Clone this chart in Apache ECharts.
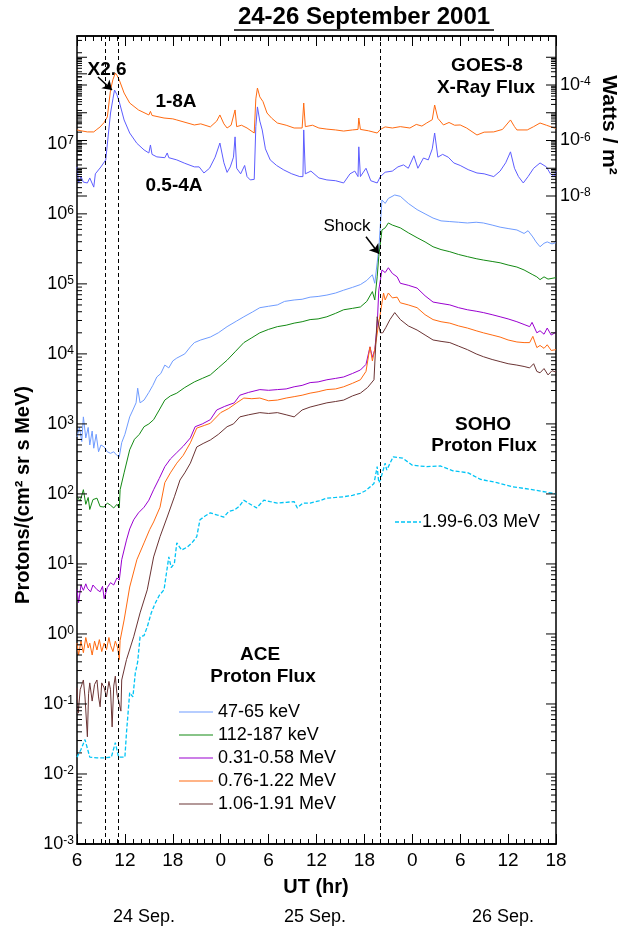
<!DOCTYPE html>
<html><head><meta charset="utf-8">
<script src="https://cdn.jsdelivr.net/npm/echarts@6/dist/echarts.min.js"></script>
<style>html,body{margin:0;padding:0;background:#fff}#c{width:622px;height:926px}</style>
</head><body><div id="c"></div><script>
// time in hours since 24 Sep 2001 00:00 UT
const xMin = 6, xMax = 66;
const protonLabelVals = [1e-3,1e-2,1e-1,1,10,100,1e3,1e4,1e5,1e6,1e7];
const wattsLabelVals = [1e-4,1e-6,1e-8];
const eventTimes = [9.5, 11.2, 44.0]; // flare start, flare end, shock
const dayLabels = ['24 Sep.', '25 Sep.', '26 Sep.'];
const aceNames = ['47-65 keV', '112-187 keV', '0.31-0.58 MeV', '0.76-1.22 MeV', '1.06-1.91 MeV'];
const sohoName = '1.99-6.03 MeV';

const ace47_65 = [[6.0,650],[6.3,890],[6.6,560],[6.8,1260],[7.1,630],[7.4,890],[7.6,500],[7.9,790],[8.1,450],[8.4,710],[8.7,400],[9.0,500],[9.4,470],[9.8,400],[10.2,380],[10.6,400],[11.0,355],[11.3,340],[11.6,540],[12.0,710],[12.6,1260],[13.0,1580],[13.4,2000],[13.6,3240],[13.9,2000],[14.4,2190],[15.0,2820],[15.5,3550],[16.0,4680],[16.5,5250],[17.0,6920],[17.5,6310],[18.0,7940],[18.5,8710],[19.5,1.0e4],[20.2,1.26e4],[20.7,1.45e4],[21.5,1.58e4],[22.7,1.74e4],[23.7,2.0e4],[24.8,2.45e4],[26.0,2.95e4],[26.9,3.39e4],[28.0,3.98e4],[28.9,4.57e4],[30.0,4.79e4],[31.1,5.01e4],[32.0,5.62e4],[33.2,5.89e4],[34.2,6.03e4],[35.2,6.46e4],[36.2,6.61e4],[37.3,6.92e4],[38.4,7.41e4],[39.4,8.13e4],[40.5,8.91e4],[41.5,9.77e4],[42.3,1.12e5],[43.0,1.35e5],[43.3,1.02e5],[43.6,2.0e5],[43.8,3.09e5],[44.2,1.58e6],[44.6,1.41e6],[45.0,1.66e6],[45.8,1.86e6],[46.5,1.78e6],[47.5,1.41e6],[48.6,1.15e6],[49.6,1.0e6],[50.6,8.71e5],[51.6,7.94e5],[52.7,7.76e5],[53.8,7.59e5],[54.9,7.41e5],[56.0,7.59e5],[56.9,7.41e5],[58.0,6.92e5],[59.0,6.46e5],[60.0,6.17e5],[61.1,5.89e5],[62.0,5.25e5],[62.5,5.75e5],[63.1,4.68e5],[63.5,3.98e5],[64.0,3.39e5],[64.5,3.8e5],[64.9,3.98e5],[65.5,3.72e5],[66.0,3.89e5]];

const ace112_187 = [[6.0,91],[6.4,79],[6.8,115],[7.1,71],[7.4,89],[7.6,60],[8.0,83],[8.5,87],[8.9,66],[9.4,65],[9.8,74],[10.2,69],[10.6,63],[11.0,71],[11.3,63],[11.4,115],[11.9,200],[12.6,427],[13.2,603],[13.8,708],[14.4,912],[15.0,1000],[15.6,1150],[16.3,1580],[17.0,2190],[17.7,2510],[18.5,2750],[19.5,3310],[20.7,3980],[21.7,4470],[22.7,5010],[23.7,6310],[24.8,8130],[25.8,1.07e4],[26.9,1.45e4],[27.9,1.7e4],[28.9,2.0e4],[30.0,2.24e4],[31.1,2.45e4],[32.2,2.57e4],[33.2,2.75e4],[34.2,2.88e4],[35.2,3.09e4],[36.2,3.16e4],[37.3,3.39e4],[38.4,3.8e4],[39.4,4.27e4],[40.5,4.47e4],[41.5,4.68e4],[42.3,5.62e4],[43.0,7.76e4],[43.3,5.89e4],[43.6,1.26e5],[43.8,2.45e5],[44.2,5.89e5],[44.6,6.31e5],[45.0,7.41e5],[45.5,6.92e5],[46.5,6.31e5],[47.5,5.37e5],[48.6,4.57e5],[49.6,3.98e5],[50.6,3.39e5],[51.6,3.09e5],[52.7,2.88e5],[53.8,2.63e5],[54.9,2.45e5],[56.0,2.29e5],[56.9,2.19e5],[58.0,2.09e5],[59.0,2.0e5],[60.0,1.86e5],[61.1,1.74e5],[62.0,1.58e5],[63.1,1.35e5],[63.6,1.26e5],[64.0,1.15e5],[64.5,1.26e5],[65.0,1.17e5],[66.0,1.23e5]];

const ace031_058 = [[6.0,4.3],[6.2,2.8],[6.5,5.0],[6.8,4.2],[7.1,5.2],[7.3,4.5],[7.7,4.0],[8.0,5.0],[8.5,4.3],[8.9,4.0],[9.2,4.8],[9.4,3.2],[9.8,4.6],[10.2,5.4],[10.6,5.0],[11.0,6.3],[11.3,5.9],[11.6,11.5],[12.2,21.9],[12.6,31.6],[13.1,42.7],[13.7,53.7],[14.4,64.6],[15.0,81.3],[15.6,115],[16.3,166],[17.0,245],[17.7,316],[18.5,389],[19.3,479],[20.2,631],[20.8,912],[21.7,1000],[22.7,1150],[23.5,1580],[24.5,1780],[25.7,2000],[26.4,2570],[27.5,2820],[28.9,3090],[30.0,3020],[31.1,3090],[32.2,3160],[33.2,3390],[34.2,3550],[35.2,3890],[36.2,3980],[37.3,4270],[38.4,4470],[39.4,4680],[40.5,5250],[41.5,5890],[42.2,7080],[42.7,1.26e4],[43.0,8910],[43.3,1.15e4],[43.6,2.51e4],[43.8,8.13e4],[44.2,1.58e5],[44.6,1.45e5],[45.0,1.7e5],[45.5,1.41e5],[46.1,1.26e5],[46.5,1.02e5],[47.5,9.55e4],[48.6,8.71e4],[49.6,6.76e4],[50.6,5.5e4],[51.6,5.25e4],[52.7,5.01e4],[53.8,4.57e4],[54.9,4.27e4],[56.0,4.07e4],[56.9,3.89e4],[58.0,3.63e4],[59.0,3.39e4],[60.0,3.16e4],[61.1,2.88e4],[62.0,2.63e4],[62.7,2.45e4],[63.0,2.82e4],[63.6,2.0e4],[64.0,2.14e4],[64.5,1.91e4],[64.9,2.34e4],[65.4,1.86e4],[66.0,2.04e4]];

const ace076_122 = [[6.0,0.74],[6.2,0.5],[6.5,0.79],[6.8,0.54],[7.1,0.89],[7.4,0.63],[7.6,0.74],[7.9,0.5],[8.2,0.79],[8.5,0.59],[8.8,0.83],[9.1,0.56],[9.4,0.74],[9.7,0.6],[10.0,0.89],[10.2,0.69],[10.5,0.56],[10.8,0.79],[11.1,0.63],[11.3,0.43],[11.4,0.81],[11.9,1.58],[12.6,4.68],[13.5,11.5],[14.4,20],[15.1,30.9],[15.6,39.8],[16.4,64.6],[17.0,145],[17.7,200],[18.5,275],[19.3,355],[20.2,537],[21.0,871],[22.0,955],[22.7,1020],[24.0,1450],[25.0,1660],[26.0,2000],[26.9,2340],[27.9,2290],[28.9,2340],[30.0,2140],[31.1,2190],[32.2,2340],[33.2,2450],[34.2,2570],[35.2,2750],[36.2,2880],[37.3,3090],[38.4,3160],[39.4,3390],[40.5,3800],[41.5,4270],[42.2,5620],[42.7,1.26e4],[43.0,7940],[43.3,1.15e4],[43.8,2.75e4],[44.4,7.41e4],[44.6,5.89e4],[45.0,7.41e4],[45.5,6.31e4],[46.1,6.46e4],[46.5,5.37e4],[47.5,5.01e4],[48.6,4.57e4],[49.6,3.63e4],[50.6,3.09e4],[51.6,2.88e4],[52.7,2.75e4],[53.8,2.51e4],[54.9,2.34e4],[56.0,2.14e4],[56.9,2.0e4],[58.0,1.86e4],[59.0,1.74e4],[60.0,1.58e4],[61.1,1.48e4],[62.0,1.45e4],[62.7,1.45e4],[63.1,1.78e4],[63.6,1.23e4],[64.0,1.32e4],[64.5,1.2e4],[64.9,1.35e4],[65.4,1.12e4],[66.0,1.15e4]];

const ace106_191 = [[6.0,0.17],[6.15,0.074],[6.4,0.16],[6.8,0.22],[7.0,0.126],[7.3,0.034],[7.45,0.14],[7.6,0.2],[7.9,0.11],[8.2,0.19],[8.5,0.22],[8.7,0.126],[8.9,0.091],[9.1,0.2],[9.4,0.17],[9.7,0.126],[10.0,0.21],[10.2,0.16],[10.4,0.047],[10.6,0.18],[10.8,0.25],[11.0,0.14],[11.3,0.1],[11.5,0.079],[11.6,0.22],[12.2,0.43],[13.1,0.91],[13.9,2.0],[14.8,4.27],[15.6,12.6],[16.4,24.5],[17.3,46.8],[18.2,91],[18.9,158],[19.5,200],[20.2,275],[21.0,468],[21.8,525],[22.7,589],[23.7,708],[24.8,912],[25.6,1000],[26.4,1260],[27.5,1350],[28.9,1450],[30.0,1410],[31.1,1450],[32.2,1350],[33.2,1260],[34.2,1580],[35.2,1740],[36.2,1860],[37.3,2000],[38.4,2090],[39.4,2190],[40.5,2510],[41.5,2750],[42.4,3310],[43.2,4270],[43.6,3.39e4],[44.0,2.0e4],[44.3,2.0e4],[44.7,2.4e4],[45.2,3.09e4],[45.8,3.89e4],[46.5,3.09e4],[47.5,2.51e4],[48.6,2.19e4],[49.6,1.86e4],[50.6,1.58e4],[51.6,1.51e4],[52.7,1.45e4],[53.8,1.29e4],[54.9,1.15e4],[56.0,1.0e4],[56.9,9120],[58.0,8320],[59.0,7760],[60.0,7240],[61.1,6920],[62.0,6610],[62.7,6310],[63.2,7240],[63.6,5620],[64.0,5370],[64.5,6170],[65.0,5010],[65.5,5750],[66.0,5500]];

const soho199_603 = [[6.0,0.0174],[6.5,0.0224],[7.0,0.031],[7.6,0.0174],[8.5,0.017],[9.5,0.017],[10.3,0.0174],[10.8,0.028],[11.2,0.0174],[12.0,0.0174],[12.2,0.039],[12.6,0.145],[13.0,0.126],[13.3,0.275],[13.6,0.4],[13.9,0.91],[14.4,0.95],[14.8,1.26],[15.3,2.0],[15.8,2.75],[16.3,3.55],[16.9,4.27],[17.5,12.6],[17.8,8.9],[18.2,10.2],[18.5,20],[19.1,15.8],[19.8,17.4],[20.4,20],[21.0,24.5],[21.4,42.7],[22.0,47.9],[22.7,53.7],[23.5,50.1],[24.4,46.8],[25.0,56.2],[25.7,58.9],[26.3,66.1],[26.9,81.3],[27.6,72.4],[28.5,63.1],[29.4,81.3],[30.2,77.6],[31.1,74.1],[32.2,75.9],[33.2,77.6],[33.6,63.1],[34.3,74.1],[35.2,74.1],[36.3,79.4],[37.3,87.1],[38.4,89.1],[39.4,91.2],[40.5,95.5],[41.5,102],[42.2,112],[42.7,126],[43.2,141],[43.6,245],[43.8,145],[44.0,158],[44.6,275],[44.8,219],[45.6,339],[46.8,324],[48.0,257],[49.8,245],[51.5,251],[53.1,214],[55.0,200],[56.5,162],[58.6,145],[60.6,126],[62.7,117],[65.6,102],[66.0,100]];

const goes1_8A = [[6.0,2.4e-6],[6.5,2.24e-6],[7.3,2.04e-6],[8.1,2.04e-6],[8.4,2.4e-6],[8.9,3.09e-6],[9.4,4.47e-6],[9.8,7.08e-6],[10.2,6.61e-5],[10.5,1.58e-4],[10.8,2.69e-4],[11.0,2.24e-4],[11.3,1.51e-4],[11.9,5.13e-5],[12.6,2.24e-5],[13.7,1.26e-5],[15.0,8.32e-6],[15.2,1.12e-5],[15.4,8.0e-6],[16.9,6.46e-6],[18.0,6.03e-6],[18.5,5.5e-6],[20.7,3.63e-6],[21.5,3.98e-6],[22.7,3.09e-6],[23.5,5.01e-6],[23.9,8.32e-6],[24.4,3.98e-6],[24.8,2.82e-6],[25.3,3.55e-6],[25.8,1.26e-5],[26.0,3.16e-6],[26.6,3.55e-6],[27.3,2.82e-6],[28.2,1.86e-6],[28.4,3.16e-5],[28.6,7.76e-5],[28.9,3.72e-5],[29.3,2.51e-5],[29.8,9.77e-6],[30.4,6.31e-6],[31.1,4.27e-6],[32.2,3.55e-6],[33.2,2.82e-6],[34.2,2.82e-6],[34.4,2.24e-5],[34.6,3.16e-6],[35.5,3.55e-6],[36.3,2.82e-6],[37.3,2.57e-6],[38.4,2.4e-6],[39.4,2.19e-6],[40.5,2.4e-6],[41.2,2.51e-6],[41.3,6.46e-6],[41.5,2.51e-6],[42.5,2.24e-6],[43.6,1.86e-6],[44.0,2.51e-6],[44.6,3.09e-6],[45.5,2.82e-6],[46.5,3.16e-6],[47.7,2.82e-6],[48.5,3.8e-6],[49.2,3.31e-6],[49.8,4.27e-6],[50.5,5.62e-6],[50.8,1.9e-5],[51.2,6.31e-6],[51.9,3.63e-6],[52.6,4.47e-6],[53.3,3.55e-6],[54.0,3.63e-6],[54.8,2.82e-6],[56.1,1.58e-6],[57.0,2.0e-6],[58.2,2.04e-6],[59.3,2.51e-6],[60.3,5.5e-6],[60.8,3.16e-6],[61.1,2.4e-6],[62.4,2.4e-6],[63.2,3.16e-6],[64.0,4.27e-6],[64.8,3.55e-6],[65.8,2.82e-6],[66.0,2.82e-6]];

const goes05_4A = [[6.0,1.12e-7],[6.2,2.95e-8],[6.5,5.0e-8],[6.8,3.16e-8],[7.3,2.95e-8],[7.6,4.47e-8],[8.1,2.09e-8],[8.3,6.3e-8],[8.5,6.76e-8],[9.0,1.12e-7],[9.6,2.0e-7],[10.2,9.77e-6],[10.5,3.16e-5],[10.7,6.6e-5],[11.0,4.47e-5],[11.3,2.45e-5],[11.9,5.5e-6],[12.6,1.86e-6],[13.5,7.9e-7],[14.4,4.57e-7],[15.0,3.55e-7],[15.2,6.9e-7],[15.4,3.16e-7],[16.0,2.57e-7],[17.0,2.4e-7],[17.3,3.55e-7],[17.5,2.4e-7],[18.5,2.0e-7],[19.5,1.51e-7],[20.7,1.12e-7],[21.3,1.12e-7],[21.9,6.76e-8],[22.6,1.0e-7],[23.3,2.51e-7],[23.9,8.1e-7],[24.4,1.58e-7],[24.8,7.1e-8],[25.2,1.12e-7],[25.6,2.51e-7],[25.8,1.35e-6],[26.0,1.0e-7],[26.5,6.3e-8],[27.0,1.26e-7],[27.3,5.0e-8],[27.7,3.8e-8],[28.2,3.98e-8],[28.4,3.16e-6],[28.6,1.62e-5],[28.9,5.0e-6],[29.2,2.4e-6],[29.6,5.0e-7],[30.2,2.0e-7],[31.0,1.26e-7],[31.9,8.7e-8],[32.9,6.3e-8],[33.9,5.0e-8],[34.3,5.0e-8],[34.4,2.4e-6],[34.6,6.3e-8],[35.3,7.9e-8],[36.3,4.47e-8],[37.3,3.8e-8],[38.4,3.55e-8],[39.4,2.95e-8],[40.2,6.3e-8],[40.8,7.9e-8],[41.2,5.0e-8],[41.3,5.9e-7],[41.5,5.0e-8],[42.2,1.0e-7],[42.8,3.55e-8],[43.6,2.95e-8],[44.0,5.0e-8],[44.6,7.2e-8],[45.5,7.9e-8],[46.2,1.12e-7],[46.9,1.32e-7],[47.5,1.0e-7],[48.2,2.82e-7],[48.7,1.0e-7],[49.4,2.34e-7],[50.0,2.0e-7],[50.5,5.0e-7],[50.8,1.86e-6],[51.2,2.51e-7],[51.8,3.16e-7],[52.5,2.51e-7],[53.2,1.55e-7],[54.0,1.26e-7],[55.0,8.9e-8],[56.1,6.76e-8],[57.0,6.3e-8],[58.2,5.0e-8],[59.0,7.9e-8],[59.7,1.58e-7],[60.3,3.9e-7],[60.8,1.0e-7],[61.3,5.0e-8],[61.9,2.95e-8],[62.5,5.0e-8],[63.2,1.0e-7],[64.0,1.55e-7],[64.8,1.12e-7],[65.3,6.3e-8],[65.8,5.0e-8],[66.0,7.9e-8]];

const FF = '"Liberation Sans", Arial, Helvetica, sans-serif';
const aceColors = ['#6f9cff', '#138a13', '#9a00d0', '#ff6a10', '#6b3434'];
const sohoColor = '#00c4f5';
const chart = echarts.init(document.getElementById('c'), null, {renderer: 'canvas'});

// tick positions on the log axes (1..9 x 10^n)
const protonTicks = [];
for (let n = -3; n <= 8; n++) for (let m = 1; m <= 9; m++) {
  const v = m * Math.pow(10, n);
  if (v > 3.4e8) continue;
  const len = m === 1 ? 10 : 5;
  protonTicks.push([xMin, v, len, 0]);
  if (v <= 1.05e6) protonTicks.push([xMax, v, len, 1]);
}
const wattsTicks = [];
for (let n = -8; n <= -3; n++) for (let m = 1; m <= 9; m++) {
  const v = m * Math.pow(10, n);
  if (v > 1.01e-3) continue;
  const len = m === 1 ? 10 : 5;
  wattsTicks.push([xMin, v, len, 0]);
  wattsTicks.push([xMax, v, len, 1]);
}
function tickRender(params, api) {
  const p = api.coord([api.value(0), api.value(1)]);
  const len = api.value(2), side = api.value(3);
  const dx = side === 0 ? len : -len;
  return {type: 'line', shape: {x1: p[0], y1: p[1], x2: p[0] + dx, y2: p[1]}, style: {stroke: '#000', lineWidth: 1}};
}
const richLbl = {
  b: {fontSize: 18, fontFamily: FF, fill: '#000', color: '#000'},
  e: {fontSize: 12, fontFamily: FF, fill: '#000', color: '#000', verticalAlign: 'top'}
};
function labelRender(side) {
  return function (params, api) {
    const v = api.value(1);
    const p = api.coord([api.value(0), v]);
    const e = Math.round(Math.log10(v));
    const al = side === 0 ? 'right' : 'left';
    return {type: 'text', x: side === 0 ? p[0] - 3 : p[0] + 4, y: p[1],
      style: {text: '{b|10}{e|' + e + '}', rich: richLbl, fill: '#000',
        align: al, textAlign: al, verticalAlign: 'middle', textVerticalAlign: 'middle'}};
  };
}

const lineS = (name, data, color, extra) => Object.assign({
  name, type: 'line', data, showSymbol: false, symbol: 'none', animation: false,
  xAxisIndex: 0, yAxisIndex: 0,
  lineStyle: {color, width: 1}, itemStyle: {color}, z: 3
}, extra || {});

const dashStyle = {type: [4, 3], color: '#000', width: 1};
const txt = (x, y, text, font, extra) => Object.assign({type: 'text', x, y,
  style: {text, font: font + ' ' + FF, fill: '#000', align: 'center', textAlign: 'center', verticalAlign: 'middle', textVerticalAlign: 'middle'}}, extra || {});
const ltxt = (x, y, text) => ({type: 'text', x, y,
  style: {text, font: '18px ' + FF, fill: '#000', align: 'left', textAlign: 'left', verticalAlign: 'middle', textVerticalAlign: 'middle'}});

const legendGraphics = [];
aceNames.forEach((nm, i) => {
  const y = 712 + i * 23;
  legendGraphics.push({type: 'line', shape: {x1: 179, y1: y, x2: 213, y2: y}, style: {stroke: aceColors[i], lineWidth: 1.2}});
  legendGraphics.push(ltxt(218, y, nm));
});
legendGraphics.push({type: 'line', shape: {x1: 395, y1: 522, x2: 421, y2: 522}, style: {stroke: sohoColor, lineWidth: 1.3, lineDash: [4, 2]}});
legendGraphics.push(ltxt(422, 522, sohoName));

const option = {
  animation: false,
  backgroundColor: '#fff',
  textStyle: {fontFamily: FF},
  grid: [
    {left: 77, right: 66, top: 36, bottom: 82, show: true, borderColor: '#000', borderWidth: 1.5, backgroundColor: 'transparent'},
    {left: 77, right: 66, top: 57.25, bottom: 702.25, show: false}
  ],
  xAxis: [
    {type: 'value', gridIndex: 0, min: xMin, max: xMax, interval: 6, position: 'bottom',
      axisLine: {show: true, lineStyle: {color: '#000', width: 1.5}},
      axisTick: {show: true, inside: true, length: 10, lineStyle: {color: '#000'}},
      minorTick: {show: true, splitNumber: 6, length: 5, lineStyle: {color: '#000'}},
      splitLine: {show: false},
      axisLabel: {fontSize: 19, color: '#000', margin: 7, fontFamily: FF, formatter: v => String(v % 24)}},
    {type: 'value', gridIndex: 1, min: xMin, max: xMax, show: false},
    {type: 'value', gridIndex: 0, min: xMin, max: xMax, interval: 6, position: 'top',
      axisLine: {show: true, lineStyle: {color: '#000', width: 1.5}},
      axisTick: {show: true, inside: true, length: 10, lineStyle: {color: '#000'}},
      minorTick: {show: true, splitNumber: 6, length: 5, lineStyle: {color: '#000'}},
      splitLine: {show: false}, axisLabel: {show: false}}
  ],
  yAxis: [
    {type: 'log', gridIndex: 0, min: 1e-3, max: 3.47e8, logBase: 10,
      axisLine: {show: false}, axisTick: {show: false}, axisLabel: {show: false}, splitLine: {show: false}},
    {type: 'log', gridIndex: 1, min: 1e-9, max: 1e-3, logBase: 10, position: 'right',
      axisLine: {show: false}, axisTick: {show: false}, axisLabel: {show: false}, splitLine: {show: false}}
  ],
  series: [
    lineS(aceNames[0], ace47_65, aceColors[0], {
      markLine: {silent: true, symbol: ['none', 'arrow'], symbolSize: 9, animation: false,
        label: {show: false}, lineStyle: {color: '#000', width: 1.5, type: 'solid'},
        data: [[{coord: [42.2, 4.7e5]}, {coord: [43.83, 2.7e5]}]]}
    }),
    lineS(aceNames[1], ace112_187, aceColors[1], {
      markLine: {silent: true, symbol: 'none', animation: false, label: {show: false}, lineStyle: dashStyle,
        data: eventTimes.map(t => ({xAxis: t}))}
    }),
    lineS(aceNames[2], ace031_058, aceColors[2]),
    lineS(aceNames[3], ace076_122, aceColors[3]),
    lineS(aceNames[4], ace106_191, aceColors[4]),
    lineS(sohoName, soho199_603, sohoColor, {lineStyle: {color: sohoColor, width: 1.3, type: [4, 2]}}),
    lineS('1-8A', goes1_8A, '#ff6a10', {xAxisIndex: 1, yAxisIndex: 1,
      markLine: {silent: true, symbol: ['none', 'arrow'], symbolSize: 9, animation: false,
        label: {show: false}, lineStyle: {color: '#000', width: 1.5, type: 'solid'},
        data: [[{coord: [8.63, 1.95e-4]}, {coord: [10.38, 6.6e-5]}]]}}),
    lineS('0.5-4A', goes05_4A, '#5d5dff', {xAxisIndex: 1, yAxisIndex: 1}),
    {type: 'custom', xAxisIndex: 0, yAxisIndex: 0, data: protonTicks, renderItem: tickRender, encode: {x: 0, y: 1}, clip: false, silent: true, z: 5},
    {type: 'custom', xAxisIndex: 1, yAxisIndex: 1, data: wattsTicks, renderItem: tickRender, encode: {x: 0, y: 1}, clip: false, silent: true, z: 5},
    {type: 'custom', xAxisIndex: 0, yAxisIndex: 0, data: protonLabelVals.map(v => [xMin, v]), renderItem: labelRender(0), encode: {x: 0, y: 1}, clip: false, silent: true, z: 5},
    {type: 'custom', xAxisIndex: 1, yAxisIndex: 1, data: wattsLabelVals.map(v => [xMax, v]), renderItem: labelRender(1), encode: {x: 0, y: 1}, clip: false, silent: true, z: 5}
  ],
  graphic: [
    txt(364, 17, '24-26 September 2001', 'bold 24px'),
    {type: 'line', shape: {x1: 234, y1: 30, x2: 494, y2: 30}, style: {stroke: '#000', lineWidth: 1.5}},
    txt(23, 495, 'Protons/(cm² sr s MeV)', 'bold 20px', {rotation: Math.PI / 2}),
    txt(609, 125, 'Watts / m²', 'bold 21px', {rotation: -Math.PI / 2}),
    txt(316, 887, 'UT (hr)', 'bold 20px'),
    txt(144, 917, dayLabels[0], '18px'),
    txt(315, 917, dayLabels[1], '18px'),
    txt(503, 917, dayLabels[2], '18px'),
    txt(107, 70, 'X2.6', 'bold 19px'),
    txt(176, 102, '1-8A', 'bold 19px'),
    txt(174, 186, '0.5-4A', 'bold 19px'),
    txt(487, 66, 'GOES-8', 'bold 19px'),
    txt(486, 88, 'X-Ray Flux', 'bold 19px'),
    txt(347, 226, 'Shock', '17px'),
    txt(483, 425, 'SOHO', 'bold 19px'),
    txt(484, 446, 'Proton Flux', 'bold 19px'),
    txt(260, 655, 'ACE', 'bold 19px'),
    txt(263, 677, 'Proton Flux', 'bold 19px')
  ].concat(legendGraphics)
};
chart.setOption(option);
</script></body></html>
